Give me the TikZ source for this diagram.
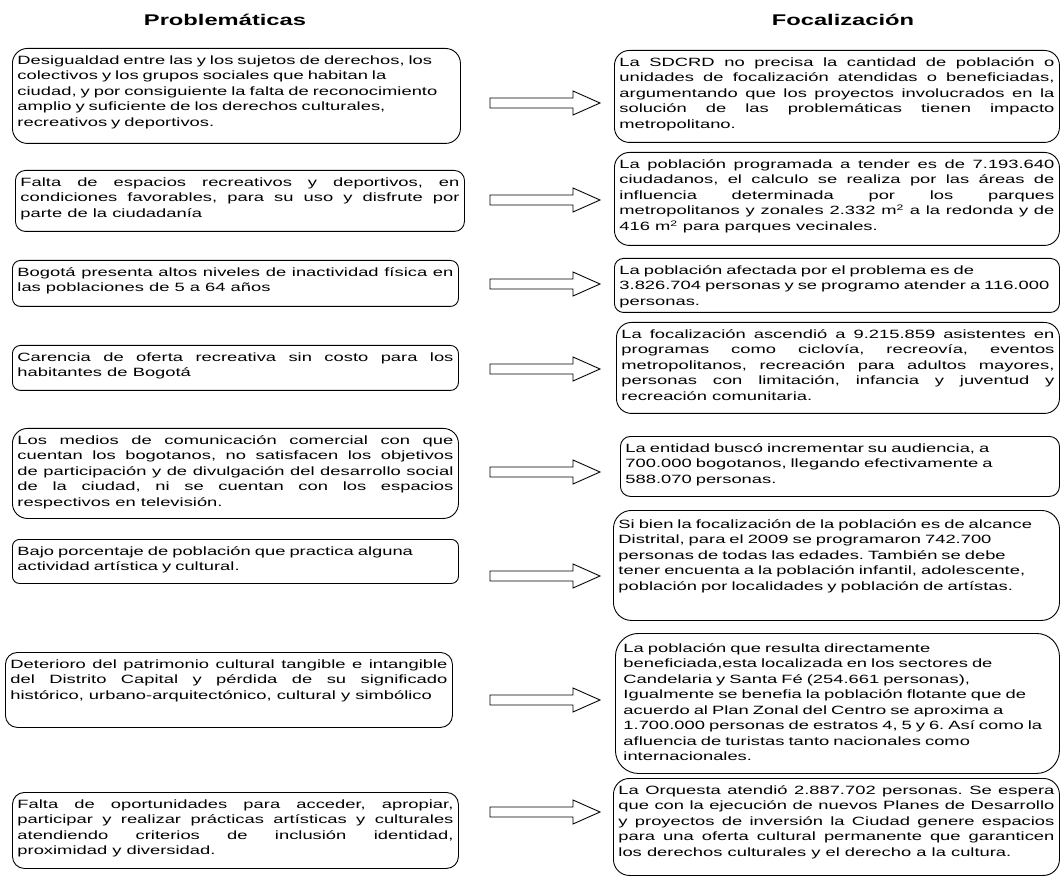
\documentclass[tikz,border=0pt]{standalone}
\usepackage{fontspec}
\setmainfont{Liberation Sans}[FakeStretch=1.53]
\frenchspacing
\begin{document}
\begin{tikzpicture}[x=1pt,y=-1pt,
    caja/.style={draw,line width=0.9pt,anchor=north west,inner xsep=5pt,inner ysep=4pt,
      text height=12pt,font=\fontsize{12}{15.5}\selectfont,
      execute at begin node={\tolerance=10000\hbadness=10000}},
    titulo/.style={font=\bfseries\fontsize{15.5}{18}\selectfont},
    flecha/.style={draw,line width=0.9pt,
      to path={([yshift=5pt]\tikztostart) -- ([xshift=-27pt,yshift=5pt]\tikztotarget)
        -- ([xshift=-27pt,yshift=12pt]\tikztotarget) -- (\tikztotarget)
        -- ([xshift=-27pt,yshift=-12pt]\tikztotarget) -- ([xshift=-27pt,yshift=-5pt]\tikztotarget)
        -- ([yshift=-5pt]\tikztostart) -- cycle}}]
    \useasboundingbox (0,0) rectangle (1061,877);
    \node[titulo] (tp) at (225,20) {Problemáticas};
    \node[titulo] (tf) at (843,20) {Focalización};
    % problematicas
    \begin{scope}[every node/.style={caja}]
      \node[align=left,text width=438pt,text depth=75pt,rounded corners=15pt] (p1) at (12,48)
        {Desigualdad entre las y los sujetos de derechos, los\\
         colectivos y los grupos sociales que habitan la\\
         ciudad, y por consiguiente la falta de reconocimiento\\
         amplio y suficiente de los derechos culturales,\\
         recreativos y deportivos.};
      \node[align=justify,text width=439pt,text depth=41pt,rounded corners=10pt] (p2) at (15,170)
        {Falta de espacios recreativos y deportivos, en\linebreak
         condiciones favorables, para su uso y disfrute por\linebreak
         parte de la ciudadanía};
      \node[align=justify,text width=436pt,text depth=26pt,rounded corners=8pt] (p3) at (12,260)
        {Bogotá presenta altos niveles de inactividad física en\linebreak
         las poblaciones de 5 a 64 años};
      \node[align=justify,text width=436pt,text depth=25pt,rounded corners=8pt] (p4) at (12,345)
        {Carencia de oferta recreativa sin costo para los\linebreak
         habitantes de Bogotá};
      \node[align=justify,text width=436pt,text depth=70pt,rounded corners=15pt] (p5) at (12,428)
        {Los medios de comunicación comercial con que\linebreak
         cuentan los bogotanos, no satisfacen\ los objetivos\linebreak
         de participación y de divulgación del desarrollo social\linebreak
         de la ciudad, ni se cuentan con los espacios\linebreak
         respectivos en televisión.};
      \node[align=left,text width=436pt,text depth=24pt,rounded corners=7pt] (p6) at (12,539)
        {Bajo porcentaje de población que practica alguna\\
         actividad artística y cultural.};
      \node[align=justify,text width=437pt,text depth=55pt,rounded corners=12pt] (p7) at (5,652)
        {Deterioro del patrimonio cultural tangible e intangible\linebreak
         del Distrito Capital y pérdida de su significado\linebreak
         histórico, urbano-arquitectónico, cultural y simbólico};
      \node[align=justify,text width=436pt,text depth=56pt,rounded corners=12pt] (p8) at (12,792)
        {Falta de oportunidades para acceder, apropiar,\linebreak
         participar\ y realizar prácticas artísticas y culturales\linebreak
         atendiendo criterios de inclusión identidad,\linebreak
         proximidad y diversidad.};
    \end{scope}
    % focalizacion
    \begin{scope}[every node/.style={caja}]
      \node[align=justify,text width=435pt,text depth=72pt,rounded corners=15pt] (f1) at (614,50)
        {La SDCRD no precisa la cantidad de población o\linebreak
         unidades de focalización atendidas o beneficiadas,\linebreak
         argumentando que los proyectos involucrados en la\linebreak
         solución de las problemáticas tienen impacto\linebreak
         metropolitano.};
      \node[align=justify,text width=435pt,text depth=73pt,rounded corners=15pt] (f2) at (614,152)
        {La población programada a tender es de 7.193.640\linebreak
         ciudadanos, el calculo se realiza por las áreas de\linebreak
         influencia determinada por los parques\linebreak
         metropolitanos y zonales 2.332 m\textsuperscript{2} a la redonda y de\linebreak
         416 m\textsuperscript{2} para parques vecinales.};
      \node[align=left,text width=435pt,text depth=34pt,rounded corners=9pt] (f3) at (614,258)
        {La población afectada por el problema es de\\
         3.826.704 personas y se programo atender a 116.000\\
         personas.};
      \node[align=justify,text width=433pt,text depth=71pt,rounded corners=15pt] (f4) at (616,322)
        {La focalización ascendió a 9.215.859 asistentes en\linebreak
         programas como ciclovía, recreovía, eventos\linebreak
         metropolitanos, recreación para adultos mayores,\linebreak
         personas con limitación, infancia y juventud y\linebreak
         recreación comunitaria.};
      \node[align=left,text width=429pt,text depth=40pt,rounded corners=10pt] (f5) at (620,436)
        {La entidad buscó incrementar su audiencia, a\\
         700.000 bogotanos, llegando efectivamente a\\
         588.070 personas.};
      \node[align=left,text width=436pt,text depth=88pt,text height=14pt,rounded corners=18pt] (f6) at (613,510)
        {Si bien la focalización de la población es de alcance\\
         Distrital, para el 2009 se programaron 742.700\\
         personas de todas las edades. También se debe\\
         tener encuenta a la población infantil, adolescente,\\
         población por localidades y población de artístas.};
      \node[align=left,inner xsep=8pt,text width=428pt,text depth=117pt,text height=15pt,rounded corners=23pt] (f7) at (615,633)
        {La población que resulta directamente\\
         beneficiada,esta localizada en los sectores de\\
         Candelaria y Santa Fé (254.661 personas),\\
         Igualmente se benefia la población flotante que de\\
         acuerdo al Plan Zonal del Centro se aproxima a\\
         1.700.000 personas de estratos 4, 5 y 6. Así como la\\
         afluencia de turistas tanto nacionales como\\
         internacionales.};
      \node[align=justify,text width=436pt,text depth=77pt,rounded corners=16pt] (f8) at (613,778)
        {La Orquesta atendió 2.887.702 personas. Se espera\linebreak
         que con la ejecución de nuevos Planes de Desarrollo\linebreak
         y proyectos de inversión la Ciudad genere espacios\linebreak
         para una oferta cultural permanente que garanticen\linebreak
         los derechos culturales y el derecho a la cultura.};
    \end{scope}
    % flechas
    \foreach \y [count=\i] in {103,200,284,369,472,576,700,812} {
      \coordinate (c\i) at (490,\y);
      \coordinate (d\i) at (600,\y);
      \path (c\i) edge[flecha] (d\i);
    }
  \end{tikzpicture}
\end{document}
